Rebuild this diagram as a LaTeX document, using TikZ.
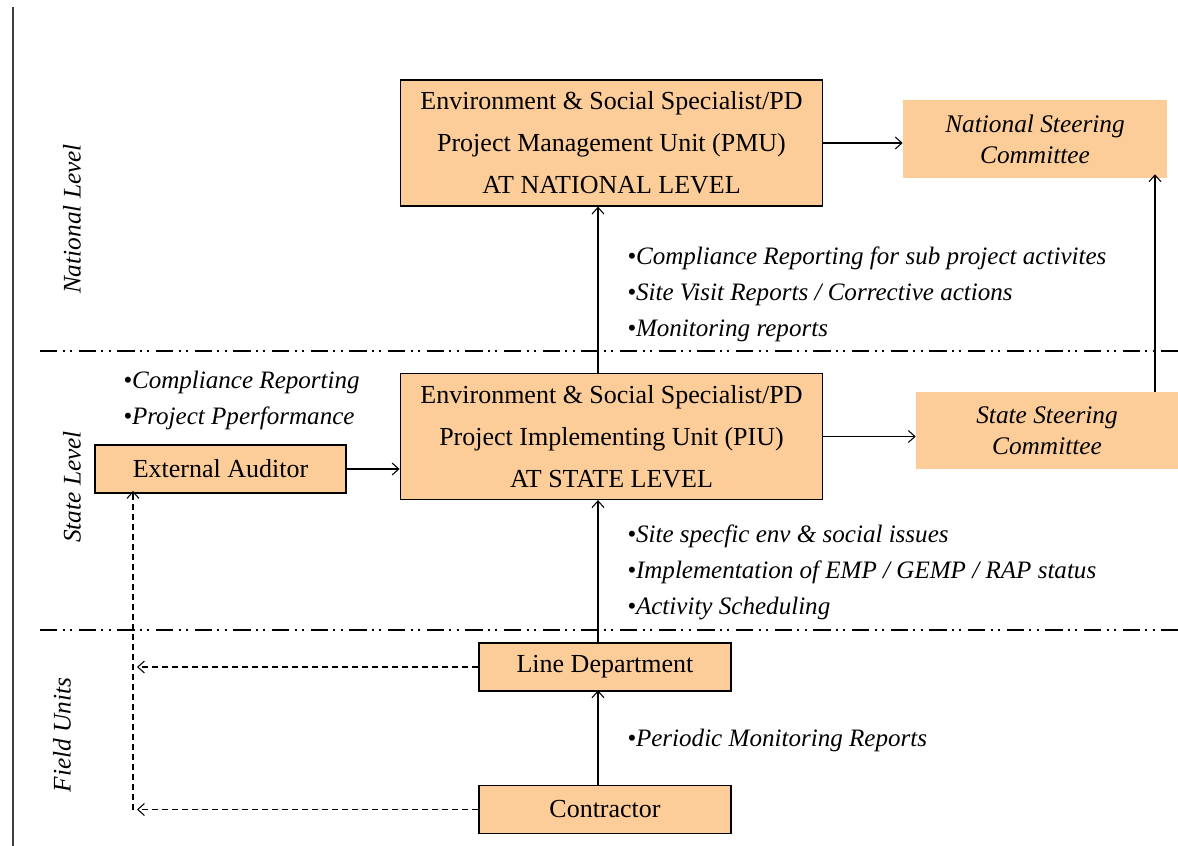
\documentclass[tikz,border=0pt]{standalone}
\usepackage{fontspec}
\setmainfont{Liberation Serif}
\usetikzlibrary{positioning,arrows.meta}
\definecolor{unitfill}{RGB}{252,204,153}

\tikzset{
  unitbox/.style={draw, line width=0.9pt, fill=unitfill, align=center, inner sep=0pt, font=\fontsize{19.5}{31.5}\selectfont},
  steerbox/.style={fill=unitfill, align=center, inner sep=0pt, font=\fontsize{19}{23}\selectfont\itshape},
  notetext/.style={anchor=west, inner sep=0pt, align=left, font=\fontsize{18.8}{27}\selectfont\itshape},
  levellabel/.style={rotate=90, inner sep=0pt, font=\fontsize{19}{23}\selectfont\itshape},
  levelline/.style={line width=1.5pt, dash pattern=on 13pt off 4pt on 1.5pt off 4pt on 1.5pt off 5pt},
  flow/.style={-{Straight Barb[length=5pt,width=9pt]}, line width=0.8pt},
  dashflow/.style={-{Straight Barb[length=5pt,width=9pt]}, dash pattern=on 4.5pt off 3pt, line width=0.8pt}
}

\begin{document}
\begin{tikzpicture}[x=0.75pt,y=0.75pt,yscale=-1,xscale=1]

\useasboundingbox (0,0) rectangle (1178,846);

\draw [line width=1.5pt, color=black!75] (13,7) -- (13,846) ;
\draw [levelline] (40,351) -- (1178,351) ;
\draw [levelline] (40,630) -- (1178,630) ;

\node [levellabel] (natlbl) at (72,219) {National Level};
\node [levellabel] (statelbl) at (72,487) {State Level};
\node [levellabel] (fieldlbl) at (62,735) {Field Units};

\node [unitbox, minimum width=317pt, minimum height=94.5pt] (pmu) at (611.5,143) {Environment \& Social Specialist/PD\\Project Management Unit (PMU)\\AT NATIONAL LEVEL};
\node [unitbox, minimum width=317pt, minimum height=94.5pt] (piu) at (611.5,436.5) {Environment \& Social Specialist/PD\\Project Implementing Unit (PIU)\\AT STATE LEVEL};
\node [steerbox, minimum width=198pt, minimum height=58.5pt] (nsc) at (1035,139) {National Steering\\Committee};
\node [steerbox, minimum width=196.5pt, minimum height=57.75pt] (ssc) at (1047,430.5) {State Steering\\Committee};
\node [unitbox, minimum width=188.25pt, minimum height=36pt] (auditor) at (220.5,469) {External Auditor};
\node [unitbox, minimum width=189pt, minimum height=36pt] (linedept) at (605,667) {Line Department};
\node [unitbox, minimum width=189pt, minimum height=36pt] (contractor) at (605,809.5) {Contractor};

\coordinate (axis) at (598,0);
\coordinate (sidecol) at (1155,0);
\coordinate (dashcol) at (133,0);

\draw [flow] (pmu.east) -- (pmu.east -| nsc.west) ;
\draw [flow] (piu.east) -- (piu.east -| ssc.west) ;
\draw [flow] (auditor.east) -- (auditor.east -| piu.west) ;
\draw [flow] (ssc.north -| sidecol) -- ([yshift=-3pt]nsc.south -| sidecol) ;
\draw [flow] (piu.north -| axis) -- (pmu.south -| axis) ;
\draw [flow] (linedept.north -| axis) -- (piu.south -| axis) ;
\draw [flow] (contractor.north -| axis) -- ([yshift=-1pt]linedept.south -| axis) ;

\draw [dashflow] (linedept.west) -- ([xshift=3pt]linedept.west -| dashcol) ;
\draw [dashflow] (contractor.west) -- ([xshift=3pt]contractor.west -| dashcol) ;
\draw [dashflow] (contractor.west -| dashcol) -- ([yshift=-2pt]auditor.south -| dashcol) ;

\node [notetext] (natnotes) at (627,294) {•Compliance Reporting for sub project activites\\•Site Visit Reports / Corrective actions\\•Monitoring reports};
\node [notetext] (auditnotes) at (123,400.5) {•Compliance Reporting\\•Project Pperformance};
\node [notetext] (statenotes) at (627,572.5) {•Site specfic env \& social issues\\•Implementation of EMP / GEMP / RAP status\\•Activity Scheduling};
\node [notetext] (fieldnotes) at (627,740) {•Periodic Monitoring Reports};

\end{tikzpicture}
\end{document}
